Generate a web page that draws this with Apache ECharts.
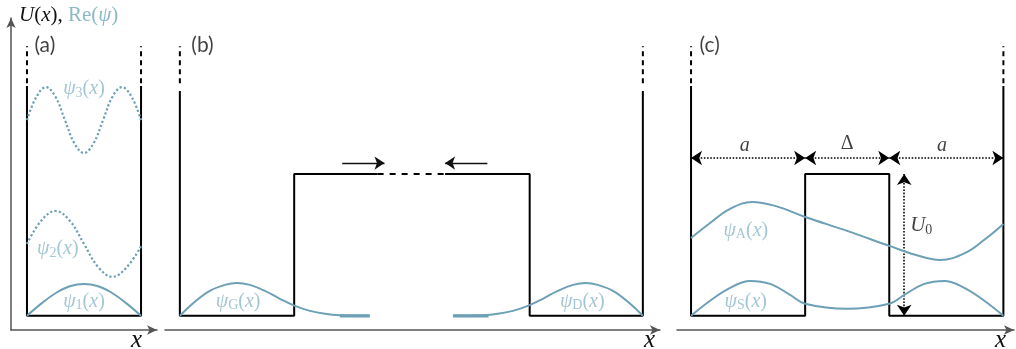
<!DOCTYPE html>
<html><head><meta charset="utf-8">
<script src="https://cdn.jsdelivr.net/npm/echarts@6/dist/echarts.min.js"></script>
<style>html,body{margin:0;padding:0;background:#fff}#c{width:1016px;height:349px}</style>
</head><body><div id="c"></div>
<script>
// ---------- data (x in well-width units, y in barrier-height units) ----------
// panel (a): infinite square well
const aPot = [[0,1.62],[0,0],[1,0],[1,1.62]];
const aWallTops = [[[0,1.64],[0,1.90]], [[1,1.64],[1,1.90]]];
const aPsi1 = [[0,0],[0.125,0.086],[0.25,0.159],[0.375,0.208],[0.5,0.225],[0.625,0.208],[0.75,0.159],[0.875,0.086],[1,0]];
const aPsi2 = [[0,0.507],[0.125,0.671],[0.25,0.739],[0.375,0.671],[0.5,0.507],[0.625,0.343],[0.75,0.275],[0.875,0.343],[1,0.49]];
const aPsi3 = [[0,1.38],[0.083,1.545],[0.167,1.612],[0.25,1.545],[0.333,1.38],[0.417,1.215],[0.5,1.148],[0.583,1.215],[0.667,1.38],[0.75,1.545],[0.833,1.612],[0.917,1.545],[1,1.38]];

// panel (b): two wells far apart
const bPotLeft = [[0,1.585],[0,0],[1,0],[1,1],[1.73,1]];
const bPotRight = [[2.32,1],[3.06,1],[3.06,0],[4.05,0],[4.05,1.585]];
const bPotGap = [[1.73,1],[2.32,1]];
const bWallTops = [[[0,1.64],[0,1.90]], [[4.05,1.64],[4.05,1.90]]];
const bArrows = [[[1.42,1.077],[1.79,1.077]], [[2.69,1.077],[2.32,1.077]]];
const bPsiG = [[0,0],[0.131,0.099],[0.262,0.176],[0.394,0.218],[0.499,0.232],[0.612,0.218],[0.744,0.176],[0.875,0.120],[1.006,0.070],[1.137,0.035],[1.269,0.014],[1.400,0.004],[1.662,0]];
const bPsiGTail = [[1.40,0],[1.66,0]];
const bPsiD = [[2.388,0],[2.650,0.004],[2.781,0.014],[2.913,0.035],[3.044,0.070],[3.175,0.120],[3.306,0.176],[3.438,0.218],[3.551,0.232],[3.656,0.218],[3.788,0.176],[3.919,0.099],[4.05,0]];
const bPsiDTail = [[2.39,0],[2.70,0]];

// panel (c): double well with barrier Δ, height U0
const cPot = [[0,1.62],[0,0],[1,0],[1,1],[1.737,1],[1.737,0],[2.737,0],[2.737,1.62]];
const cWallTops = [[[0,1.64],[0,1.90]], [[2.737,1.64],[2.737,1.90]]];
const cDims = [[[0,1.113],[1,1.113]], [[1,1.113],[1.737,1.113]], [[1.737,1.113],[2.737,1.113]]];
const cU0 = [[[1.868,0],[1.868,1]]];
const cPsiA = [[0,0.549],[0.167,0.655],[0.342,0.754],[0.535,0.803],[0.737,0.775],[1.0,0.697],[1.368,0.599],[1.737,0.493],[1.965,0.430],[2.184,0.394],[2.404,0.444],[2.579,0.542],[2.737,0.648]];
const cPsiS = [[0,0],[0.167,0.106],[0.342,0.197],[0.518,0.246],[0.693,0.225],[0.868,0.148],[1.0,0.085],[1.368,0.049],[1.737,0.085],[1.869,0.148],[2.044,0.225],[2.219,0.246],[2.395,0.197],[2.570,0.106],[2.737,0]];

// text labels: [panel, x, y, text]
const psiLabels = [
  [0,0.50,1.60,'{m|ψ}{s|3}{r|(}{m|x}{r|)}'],
  [0,0.27,0.47,'{m|ψ}{s|2}{r|(}{m|x}{r|)}'],
  [0,0.50,0.10,'{m|ψ}{s|1}{r|(}{m|x}{r|)}'],
  [1,0.51,0.10,'{m|ψ}{s|G}{r|(}{m|x}{r|)}'],
  [1,3.52,0.10,'{m|ψ}{s|D}{r|(}{m|x}{r|)}'],
  [2,0.48,0.60,'{m|ψ}{s|A}{r|(}{m|x}{r|)}'],
  [2,0.48,0.10,'{m|ψ}{s|S}{r|(}{m|x}{r|)}']
];
const blackLabels = [
  [2,0.47,1.20,'{m|a}'],
  [2,1.368,1.21,'{r|Δ}'],
  [2,2.20,1.20,'{m|a}']
];
const panelLabels = [[0,0.065,1.905,'(a)'],[1,0.10,1.905,'(b)'],[2,0.075,1.905,'(c)']];
const u0Label = [2,1.92,0.635,'{m|U}{s|0}'];

// ---------- styles ----------
const SERIF = "'Liberation Serif','DejaVu Serif',serif";
const BLUE = '#6ba0b6', BLUE_T = '#8cb8c9', AX = '#555';
function rich(color, fs){
  return {
    m:{fontFamily:SERIF,fontStyle:'italic',fontSize:fs,color:color,lineHeight:fs+2},
    r:{fontFamily:SERIF,fontSize:fs,color:color,lineHeight:fs+2},
    s:{fontFamily:SERIF,fontSize:Math.round(fs*0.68),color:color,verticalAlign:'bottom',lineHeight:Math.round(fs*0.68)}
  };
}
const grids = [
  {left:11, width:146, top:18, bottom:19, outerBoundsMode:'none', containLabel:false},
  {left:165, width:495, top:18, bottom:19, outerBoundsMode:'none', containLabel:false},
  {left:677, width:337, top:18, bottom:19, outerBoundsMode:'none', containLabel:false}
];
const xr = [[-0.14,1.14],[-0.13,4.20],[-0.123,2.83]];
const xNameGap = [-15,-5,-8];
const xAxes = xr.map((r,i)=>({
  type:'value', gridIndex:i, min:r[0], max:r[1],
  axisLine:{show:true,onZero:false,symbol:['none','arrow'],symbolSize:[7,10],lineStyle:{color:AX,width:1.5}},
  axisTick:{show:false}, axisLabel:{show:false}, splitLine:{show:false},
  name:'x', nameLocation:'end', nameGap:xNameGap[i],
  nameTextStyle:{fontFamily:SERIF,fontStyle:'italic',fontSize:25,color:'#111',align:'right',verticalAlign:'top',lineHeight:18,padding:[1,0,0,0]}
}));
const yAxes = [0,1,2].map(i=>({
  type:'value', gridIndex:i, min:-0.1, max:2.1, show: i===0,
  axisLine:{show:true,onZero:false,symbol:['none','arrow'],symbolSize:[7,10],lineStyle:{color:AX,width:1.5}},
  axisTick:{show:false}, axisLabel:{show:false}, splitLine:{show:false},
  name: i===0 ? '{m|U}{r|(}{m|x}{r|), }{b|Re(}{bm|ψ}{b|)}' : '',
  nameLocation:'end', nameGap:3,
  nameTextStyle:{align:'left',verticalAlign:'middle',padding:[0,0,0,8],
    rich:{
      m:{fontFamily:SERIF,fontStyle:'italic',fontSize:21,color:'#111'},
      r:{fontFamily:SERIF,fontSize:21,color:'#111'},
      b:{fontFamily:SERIF,fontSize:21,color:BLUE_T},
      bm:{fontFamily:SERIF,fontStyle:'italic',fontSize:21,color:BLUE_T}
    }}
}));

const series = [];
function line(g, data, opt){
  series.push(Object.assign({type:'line', xAxisIndex:g, yAxisIndex:g, data:data, symbol:'none', silent:true, animation:false,
    lineStyle:{color:'#000',width:2}}, opt||{}));
}
function arrows(g, data, style, sym, size){
  series.push({type:'lines', coordinateSystem:'cartesian2d', xAxisIndex:g, yAxisIndex:g, silent:true, animation:false,
    symbol:sym, symbolSize:size, lineStyle:style, data:data.map(c=>({coords:c}))});
}
function text(g, x, y, fmt, color, fs, align, font){
  series.push({type:'scatter', xAxisIndex:g, yAxisIndex:g, data:[[x,y]], symbolSize:1, clip:false, silent:true, animation:false,
    itemStyle:{color:'rgba(0,0,0,0)'},
    label:{show:true, position:'inside', align:align||'center', verticalAlign:'middle', formatter:fmt,
      rich: font ? undefined : rich(color, fs),
      fontFamily: font, fontSize: fs, color: color}});
}

// panel (a)
line(0, aPot);
aWallTops.forEach(d=>line(0, d, {lineStyle:{color:'#000',width:2,type:[5,4]}}));
line(0, aPsi1, {smooth:0.4, lineStyle:{color:BLUE,width:2}});
line(0, aPsi2, {smooth:0.4, lineStyle:{color:BLUE,width:2.2,type:'dotted'}});
line(0, aPsi3, {smooth:0.4, lineStyle:{color:BLUE,width:2.2,type:'dotted'}});
// panel (b)
line(1, bPotLeft); line(1, bPotRight);
line(1, bPotGap, {lineStyle:{color:'#000',width:2,type:[6,6]}});
bWallTops.forEach(d=>line(1, d, {lineStyle:{color:'#000',width:2,type:[5,4]}}));
arrows(1, bArrows, {color:'#111',width:1.4,opacity:1}, ['none','arrow'], 10);
line(1, bPsiG, {smooth:0.4, lineStyle:{color:BLUE,width:2}});
line(1, bPsiGTail, {lineStyle:{color:BLUE,width:3.2}});
line(1, bPsiD, {smooth:0.4, lineStyle:{color:BLUE,width:2}});
line(1, bPsiDTail, {lineStyle:{color:BLUE,width:3.2}});
// panel (c)
line(2, cPot);
cWallTops.forEach(d=>line(2, d, {lineStyle:{color:'#000',width:2,type:[5,4]}}));
arrows(2, cDims, {color:'#000',width:1.6,type:'dotted',opacity:1}, ['arrow','arrow'], 11);
arrows(2, cU0, {color:'#000',width:1.6,type:'dotted',opacity:1}, ['arrow','arrow'], 11);
line(2, cPsiA, {smooth:0.4, lineStyle:{color:BLUE,width:2}});
line(2, cPsiS, {smooth:0.4, lineStyle:{color:BLUE,width:2}});

psiLabels.forEach(l=>text(l[0],l[1],l[2],l[3],BLUE_T,20));
blackLabels.forEach(l=>text(l[0],l[1],l[2],l[3],'#111',20));
text(u0Label[0],u0Label[1],u0Label[2],u0Label[3],'#111',21,'left');
panelLabels.forEach(l=>text(l[0],l[1],l[2],l[3],'#111',21,'left',"Lato,'Open Sans',sans-serif"));

const chart = echarts.init(document.getElementById('c'), null, {renderer:'canvas'});
chart.setOption({animation:false, grid:grids, xAxis:xAxes, yAxis:yAxes, series:series});
</script></body></html>
